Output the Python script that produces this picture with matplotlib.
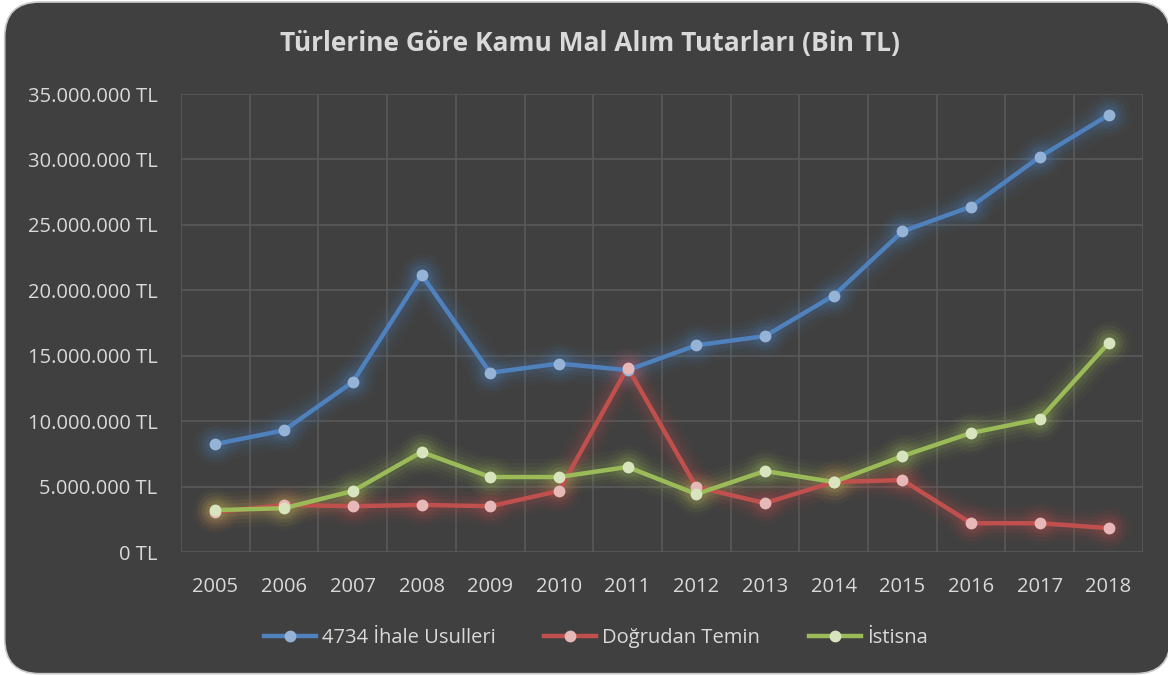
import matplotlib
matplotlib.use("Agg")
import matplotlib.pyplot as plt
from matplotlib.patches import FancyBboxPatch
from matplotlib.lines import Line2D
from matplotlib.ticker import FuncFormatter, MultipleLocator
import numpy as np

years = ["2005", "2006", "2007", "2008", "2009", "2010", "2011",
         "2012", "2013", "2014", "2015", "2016", "2017", "2018"]
ihale = [8.25, 9.3, 13.0, 21.2, 13.7, 14.4, 13.9, 15.8, 16.5, 19.6, 24.5, 26.4, 30.2, 33.4]
dogrudan = [3.05, 3.6, 3.5, 3.6, 3.5, 4.66, 14.1, 4.97, 3.74, 5.35, 5.5, 2.2, 2.2, 1.83]
istisna = [3.2, 3.35, 4.66, 7.64, 5.73, 5.73, 6.5, 4.43, 6.19, 5.35, 7.33, 9.1, 10.16, 15.97]
series_names = ["4734 İhale Usulleri", "Doğrudan Temin", "İstisna"]
title = "Türlerine Göre Kamu Mal Alım Tutarları (Bin TL)"

line_colors = ["#4F81BD", "#C0504D", "#9BBB59"]
marker_colors = ["#95B3D7", "#E6B9B8", "#D7E4BD"]
bg = "#404040"
grid_c = "#595959"
text_c = "#D9D9D9"

plt.rcParams['font.family'] = ['Open Sans', 'DejaVu Sans']

fig = plt.figure(figsize=(11.68, 6.75), dpi=100)
fig.patch.set_facecolor("white")
card = FancyBboxPatch((0.004, 0.002), 0.998, 0.995,
                      boxstyle="round,pad=0,rounding_size=0.03",
                      transform=fig.transFigure, facecolor=bg,
                      edgecolor="#C8C8C8", linewidth=1.2,
                      mutation_aspect=1168/675, zorder=-10)
fig.add_artist(card)

ax = fig.add_axes([0.155, 0.1822, 0.8235, 0.6785])
ax.set_facecolor("none")

x = np.arange(len(years))
data = [ihale, dogrudan, istisna]
values_scale = 1e6
for vals, lc, mc in zip(data, line_colors, marker_colors):
    v = np.array(vals) * values_scale
    # glow
    for lw, a in [(26, 0.035), (20, 0.05), (14, 0.08), (9, 0.1)]:
        ax.plot(x, v, color=lc, lw=lw, alpha=a, solid_capstyle="round",
                solid_joinstyle="round", zorder=2)
        ax.plot(x, v, linestyle="none", marker="o", ms=lw + 6, color=lc,
                alpha=a, markeredgewidth=0, zorder=2)
    ax.plot(x, v, color=lc, lw=3.2, solid_joinstyle="round", zorder=3)
    ax.plot(x, v, linestyle="none", marker="o", ms=8.5, color=mc,
            markeredgewidth=0, zorder=4)

ax.set_xlim(-0.5, len(years) - 0.5)
ax.set_ylim(0, 35e6)
ax.yaxis.set_major_locator(MultipleLocator(5e6))

def fmt(v, pos):
    if v == 0:
        return "0 TL"
    return "{:,.0f}".format(v).replace(",", ".") + " TL"

ax.yaxis.set_major_formatter(FuncFormatter(fmt))
ax.set_xticks(x)
ax.set_xticklabels(years)
ax.set_xticks(np.arange(-0.5, len(years)), minor=True)
ax.grid(axis="y", which="major", color=grid_c, lw=1.2)
ax.grid(axis="x", which="minor", color=grid_c, lw=1.2)
ax.set_axisbelow(True)
for s in ax.spines.values():
    s.set_visible(False)
ax.tick_params(axis="both", which="both", length=0, colors=text_c, labelsize=14.5)
ax.tick_params(axis="y", pad=17)
ax.tick_params(axis="x", pad=18)

fig.text(0.505, 0.935, title, ha="center", va="center", fontsize=19,
         fontweight="bold", color=text_c)

handles = [Line2D([0], [0], color=lc, lw=3.2, marker="o", ms=8.5,
                  markerfacecolor=mc, markeredgewidth=0)
           for lc, mc in zip(line_colors, marker_colors)]
leg = fig.legend(handles, series_names, loc="center", bbox_to_anchor=(0.51, 0.055),
                 ncol=3, frameon=False, fontsize=14.5, labelcolor=text_c,
                 handlelength=2.6, handletextpad=0.3, columnspacing=2.4)

fig.savefig("out.png", dpi=100, facecolor=fig.get_facecolor())
